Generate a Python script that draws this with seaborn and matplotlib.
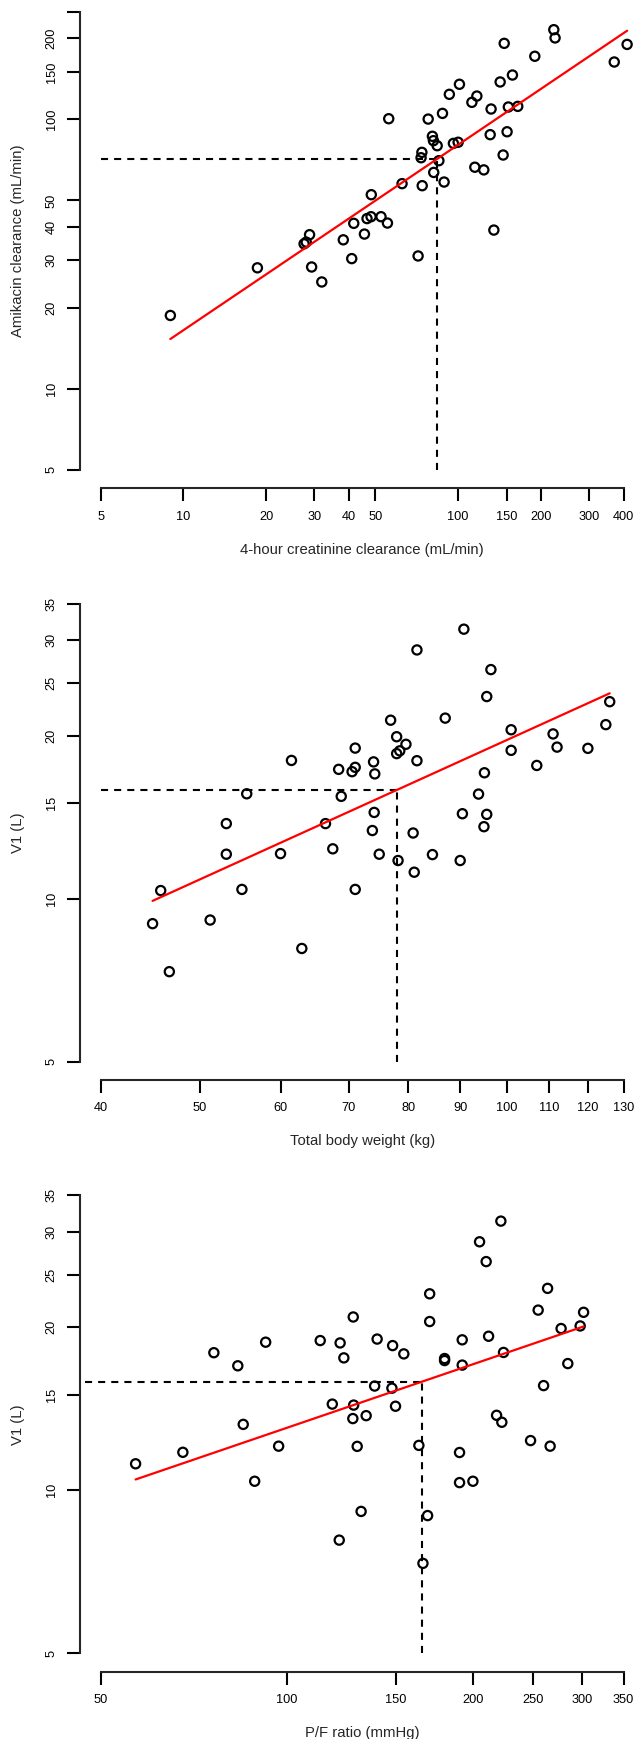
import numpy as np
import matplotlib
matplotlib.use("Agg")
import matplotlib.pyplot as plt
from matplotlib.ticker import FixedLocator, FixedFormatter, NullLocator
import seaborn as sns

# ---------------- data ----------------
# Panel 1: amikacin clearance vs 4-hour creatinine clearance
crcl = [8.97, 18.6, 27.5, 28.0, 28.8, 29.3, 31.9, 38.2, 41.0, 41.7, 45.6, 46.6, 48.2, 48.3,
        52.4, 55.3, 55.9, 62.5, 71.5, 73.8, 73.3, 74.0, 77.8, 80.6, 81.3, 83.9, 81.5, 85.1,
        87.7, 88.9, 92.9, 96.1, 100.0, 101.1, 112.2, 117.0, 115.0, 124.0, 131.8, 130.8, 134.9,
        142.2, 147.1, 145.8, 150.7, 152.3, 157.6, 164.8, 190.1, 222.9, 225.3, 369.9, 412.0]
amik_cl = [18.7, 28.1, 34.5, 35.0, 37.3, 28.3, 24.9, 35.7, 30.4, 41.1, 37.5, 42.8, 43.5, 52.5,
           43.5, 41.2, 100.5, 57.7, 31.1, 75.4, 72.0, 56.7, 100.2, 86.5, 83.3, 79.8, 63.5, 70.2,
           105.2, 58.5, 123.8, 81.4, 82.2, 134.9, 115.6, 122.0, 66.4, 64.9, 109.2, 87.7, 38.8,
           137.6, 191.4, 73.7, 89.9, 111.1, 146.0, 111.7, 171.4, 215.1, 200.5, 163.2, 189.7]

# Panel 2: V1 vs total body weight
tbw = [45.8, 44.97, 46.7, 51.2, 53.1, 53.1, 55.0, 55.6, 60.0, 61.5, 62.95, 66.4, 67.5, 68.4,
       68.8, 70.5, 71.0, 71.0, 71.0, 74.0, 74.2, 74.1, 73.8, 74.95, 76.9, 77.95, 77.95, 78.5,
       79.6, 78.2, 80.9, 81.1, 81.6, 81.6, 84.5, 86.97, 89.95, 90.4, 90.7, 93.75, 95.0, 95.5,
       96.4, 95.5, 94.9, 100.9, 100.9, 106.9, 110.9, 111.9, 119.95, 124.9, 126.0]
v1_tbw = [10.35, 8.99, 7.33, 9.13, 13.76, 12.08, 10.40, 15.62, 12.11, 18.0, 8.09, 13.76, 12.36,
          17.33, 15.45, 17.16, 17.48, 18.97, 10.40, 17.89, 17.0, 14.43, 13.36, 12.08, 21.36,
          19.91, 18.53, 18.75, 19.28, 11.76, 13.22, 11.19, 28.8, 17.98, 12.06, 21.55, 11.76,
          14.35, 31.46, 15.6, 17.08, 23.62, 26.49, 14.31, 13.58, 20.51, 18.79, 17.62, 20.15,
          19.05, 18.95, 20.96, 23.11]

# Panel 3: V1 vs P/F ratio
pf = [56.95, 67.9, 76.2, 83.3, 85.0, 88.7, 92.4, 96.97, 113.2, 118.4, 121.9, 123.6, 121.5,
      128.0, 128.2, 127.8, 129.9, 131.8, 134.3, 138.6, 139.9, 148.2, 147.8, 149.8, 154.5, 163.4,
      165.9, 168.8, 170.1, 170.1, 179.8, 179.8, 192.0, 192.0, 190.1, 190.1, 199.8, 204.8, 209.9,
      211.8, 218.2, 221.7, 223.9, 222.5, 247.6, 254.7, 259.9, 263.8, 266.3, 277.4, 284.4,
      297.8, 301.6]
v1_pf = [11.19, 11.75, 17.94, 16.97, 13.23, 10.39, 18.76, 12.06, 18.89, 14.42, 18.70, 17.55,
         8.09, 20.88, 14.36, 13.56, 12.05, 9.14, 13.73, 15.57, 19.01, 18.49, 15.43, 14.29, 17.85,
         12.1, 7.33, 8.98, 23.04, 20.48, 17.5, 17.35, 18.95, 17.02, 11.74, 10.33, 10.39, 28.74,
         26.42, 19.24, 13.75, 31.38, 17.96, 13.35, 12.35, 21.5, 15.6, 23.58, 12.06, 19.88, 17.13,
         20.1, 21.3]

# covariate model: typical value, median covariate, exponent
typical = [71.4, 15.87, 15.87]
median_cov = [84.1, 77.95, 165.5]
exponent = [0.6885, 0.857, 0.39]
hline_start = [5, 40, 47.2]

# axis ticks and labels
x_ticks = [[5, 10, 20, 30, 40, 50, 100, 150, 200, 300, 400],
           [40, 50, 60, 70, 80, 90, 100, 110, 120, 130],
           [50, 100, 150, 200, 250, 300, 350]]
y_ticks = [[5, 10, 20, 30, 40, 50, 100, 150, 200, 250],
           [5, 10, 15, 20, 25, 30, 35],
           [5, 10, 15, 20, 25, 30, 35]]
y_ticklabels = [["5", "10", "20", "30", "40", "50", "100", "150", "200", ""],
                None, None]
x_labels = ["4-hour creatinine clearance (mL/min)", "Total body weight (kg)", "P/F ratio (mmHg)"]
y_labels = ["Amikacin clearance (mL/min)", "V1 (L)", "V1 (L)"]

xs_data = [crcl, tbw, pf]
ys_data = [amik_cl, v1_tbw, v1_pf]

# ---------------- style ----------------
sns.set_style("ticks")
plt.rcParams["font.family"] = ["Liberation Sans", "DejaVu Sans"]

W, H = 634, 1739
fig = plt.figure(figsize=(W / 100, H / 100), dpi=100)

left_px, right_px = 79.7, 644.5
panels_px = [(-6.2, 488.1), (585.8, 1079.9), (1177.1, 1671.7)]

LW = 1.5
for i in range(3):
    top, bot = panels_px[i]
    ax = fig.add_axes([left_px / W, 1 - bot / H, (right_px - left_px) / W, (bot - top) / H])
    ax.set_xscale("log")
    ax.set_yscale("log")

    xt, yt = x_ticks[i], y_ticks[i]
    lx0, lx1 = np.log10(xt[0]), np.log10(xt[-1])
    ly0, ly1 = np.log10(yt[0]), np.log10(yt[-1])
    px, py = 0.04 * (lx1 - lx0), 0.04 * (ly1 - ly0)
    ax.set_xlim(10 ** (lx0 - px), 10 ** (lx1 + px))
    ax.set_ylim(10 ** (ly0 - py), 10 ** (ly1 + py))

    # scatter
    sns.scatterplot(x=xs_data[i], y=ys_data[i], ax=ax, marker="o", s=44,
                    facecolor="none", edgecolor="black", linewidth=1.6, zorder=3,
                    clip_on=False)

    # covariate model line
    xfit = np.geomspace(min(xs_data[i]), max(xs_data[i]), 100)
    yfit = typical[i] * (xfit / median_cov[i]) ** exponent[i]
    sns.lineplot(x=xfit, y=yfit, ax=ax, color="#FF0000", linewidth=1.6, zorder=4,
                 sort=False, estimator=None)

    # dashed reference lines
    ax.plot([hline_start[i], median_cov[i]], [typical[i], typical[i]], color="black",
            linewidth=LW, linestyle=(0, (3.4, 2.9)), zorder=2)
    ax.plot([median_cov[i], median_cov[i]], [yt[0], typical[i]], color="black",
            linewidth=LW, linestyle=(0, (3.4, 2.9)), zorder=2)

    # axes styling (R-like)
    for s in ["top", "right"]:
        ax.spines[s].set_visible(False)
    for s in ["left", "bottom"]:
        ax.spines[s].set_linewidth(LW)
    ax.spines["left"].set_bounds(yt[0], yt[-1])
    ax.spines["bottom"].set_bounds(xt[0], xt[-1])

    ax.xaxis.set_major_locator(FixedLocator(xt))
    ax.xaxis.set_major_formatter(FixedFormatter([str(v) for v in xt]))
    ax.xaxis.set_minor_locator(NullLocator())
    ax.yaxis.set_major_locator(FixedLocator(yt))
    ylabs = y_ticklabels[i] if y_ticklabels[i] is not None else [str(v) for v in yt]
    ax.yaxis.set_major_formatter(FixedFormatter(ylabs))
    ax.yaxis.set_minor_locator(NullLocator())

    ax.tick_params(axis="both", which="major", direction="out", length=9.4, width=LW,
                   labelsize=9.2, colors="black")
    ax.tick_params(axis="x", pad=6.8)
    ax.tick_params(axis="y", pad=6.4)
    for lab in ax.get_yticklabels():
        lab.set_rotation(90)
        lab.set_va("center")
        lab.set_ha("right")

    ax.set_xlabel(x_labels[i], fontsize=10.7, va="center")
    ax.xaxis.set_label_coords(0.5, -61.5 / (bot - top))
    ax.set_ylabel(y_labels[i], fontsize=10.7, va="center")
    ax.yaxis.set_label_coords(-(left_px - 18.3) / (right_px - left_px), 0.5)
    ax.set_facecolor("none")
    ax.grid(False)

fig.patch.set_facecolor("white")
fig.savefig("out.png", dpi=100, facecolor="white")
